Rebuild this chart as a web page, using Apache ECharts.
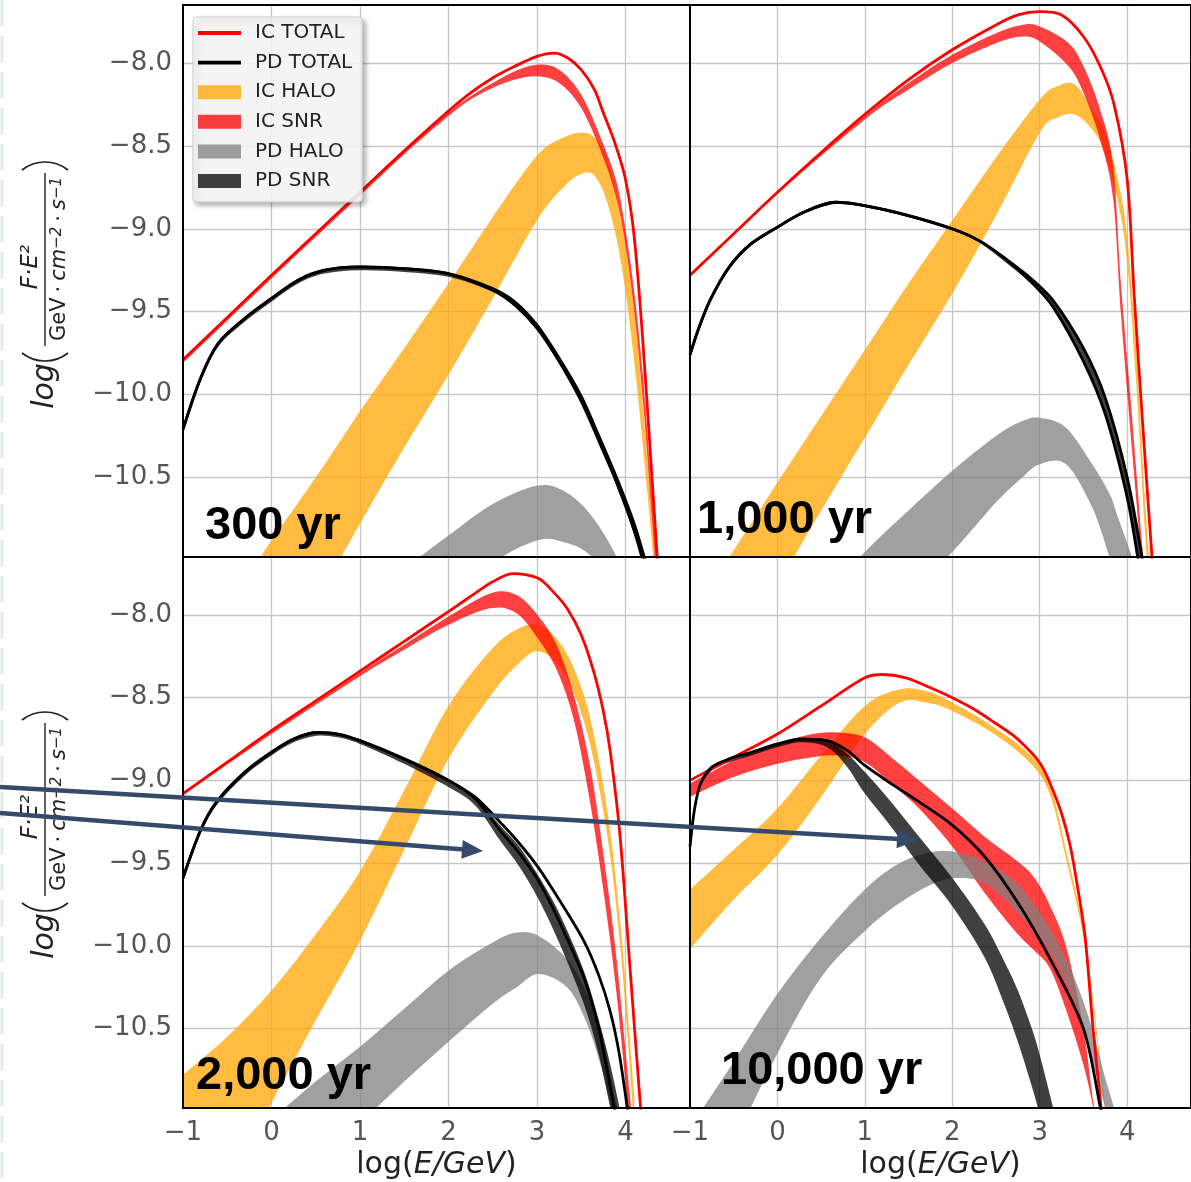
<!DOCTYPE html>
<html lang="en">
<head>
<meta charset="UTF-8">
<title>IC / PD spectra</title>
<script src="https://cdn.jsdelivr.net/npm/echarts@6/dist/echarts.min.js"></script>
<style>
  html, body { margin: 0; padding: 0; background: #fff; }
  #main { width: 1191px; height: 1182px; }
</style>
</head>
<body>
<div id="main"></div>
<script>
// lines: [logE, logF] ; bands: [logE, low, high]

// ---- 300 yr ----
var icTotal300 = [[-1,-9.79],[-0.5,-9.535],[0,-9.28],[0.5,-9.03],[1,-8.78],[1.5,-8.53],[2,-8.29],[2.25,-8.18],[2.5,-8.09],[2.75,-8.02],[3,-7.96],[3.2,-7.94],[3.35,-7.97],[3.5,-8.04],[3.65,-8.16],[3.75,-8.3],[3.88,-8.48],[4,-8.7],[4.1,-9.05],[4.2,-9.7],[4.3,-10.5],[4.4,-11.3]];
var pdTotalA300 = [[-1,-10.21],[-0.8,-9.9],[-0.6,-9.69],[-0.3,-9.54],[0,-9.42],[0.3,-9.31],[0.6,-9.25],[1,-9.23],[1.5,-9.24],[2,-9.27],[2.5,-9.36],[2.75,-9.44],[3,-9.58],[3.25,-9.78],[3.5,-10.01],[3.7,-10.25],[3.9,-10.5],[4.1,-10.78],[4.25,-11.05]];
var pdTotalB300 = [[-1,-10.21],[-0.8,-9.9],[-0.6,-9.69],[-0.3,-9.54],[0,-9.42],[0.3,-9.31],[0.6,-9.25],[1,-9.23],[1.5,-9.24],[2,-9.27],[2.5,-9.37],[2.75,-9.46],[3,-9.6],[3.25,-9.8],[3.5,-10.04],[3.7,-10.28],[3.9,-10.53],[4.1,-10.82],[4.25,-11.1]];
var icHalo300 = [[-0.2,-12.3,-11.05],[0,-11.7,-10.88],[0.5,-11.25,-10.5],[1,-10.78,-10.1],[1.5,-10.32,-9.72],[2,-9.88,-9.33],[2.5,-9.42,-8.93],[3,-8.95,-8.56],[3.3,-8.75,-8.45],[3.5,-8.67,-8.42],[3.65,-8.68,-8.45],[3.8,-8.85,-8.6],[3.95,-9.2,-8.95],[4.1,-9.8,-9.5],[4.25,-10.6,-10.4],[4.35,-11.2,-11.1]];
var icSnr300 = [[-1,-9.81,-9.8],[0,-9.3,-9.29],[1,-8.8,-8.79],[1.5,-8.55,-8.54],[2,-8.32,-8.3],[2.25,-8.22,-8.2],[2.5,-8.15,-8.12],[2.75,-8.1,-8.05],[3,-8.08,-8.01],[3.25,-8.12,-8.04],[3.5,-8.27,-8.19],[3.75,-8.57,-8.49],[3.9,-8.82,-8.72],[4,-9.1,-9.0],[4.1,-9.5,-9.38],[4.2,-10.05,-9.9],[4.3,-10.75,-10.6],[4.4,-11.5,-11.3]];
var pdHalo300 = [[1.5,-11.6,-11.05],[2,-11.3,-10.85],[2.5,-11.02,-10.66],[3,-10.88,-10.55],[3.3,-10.89,-10.58],[3.6,-10.97,-10.72],[3.9,-11.2,-10.98],[4.1,-11.5,-11.3]];
var pdSnr300 = [[-1,-10.23,-10.21],[-0.8,-9.92,-9.9],[-0.6,-9.71,-9.69],[-0.3,-9.56,-9.54],[0,-9.44,-9.42],[0.3,-9.33,-9.31],[0.6,-9.27,-9.25],[1,-9.25,-9.23],[1.5,-9.26,-9.24],[2,-9.29,-9.27],[2.5,-9.38,-9.36],[2.75,-9.47,-9.44],[3,-9.61,-9.58],[3.25,-9.81,-9.78],[3.5,-10.05,-10.01],[3.7,-10.29,-10.25],[3.9,-10.55,-10.5],[4.1,-10.85,-10.78],[4.25,-11.15,-11.05]];

// ---- 1,000 yr ----
var icTotal1000 = [[-1,-9.28],[-0.5,-9.03],[0,-8.78],[0.5,-8.54],[1,-8.31],[1.5,-8.1],[2,-7.92],[2.5,-7.77],[2.75,-7.71],[3,-7.69],[3.25,-7.71],[3.5,-7.84],[3.7,-8.03],[3.85,-8.25],[4,-8.7],[4.08,-9.4],[4.18,-10.2],[4.3,-11.1]];
var pdTotalA1000 = [[-1,-9.76],[-0.9,-9.6],[-0.77,-9.43],[-0.55,-9.23],[-0.3,-9.09],[0,-8.99],[0.3,-8.9],[0.66,-8.84],[1,-8.86],[1.5,-8.92],[2,-9.0],[2.3,-9.07],[2.58,-9.17],[2.9,-9.3],[3.15,-9.43],[3.5,-9.72],[3.75,-10.02],[4,-10.5],[4.17,-10.98],[4.3,-11.4]];
var pdTotalB1000 = [[-1,-9.76],[-0.9,-9.6],[-0.77,-9.43],[-0.55,-9.23],[-0.3,-9.09],[0,-8.99],[0.3,-8.9],[0.66,-8.84],[1,-8.86],[1.5,-8.92],[2,-9.0],[2.3,-9.07],[2.58,-9.17],[2.9,-9.32],[3.15,-9.47],[3.5,-9.8],[3.75,-10.12],[4,-10.62],[4.12,-10.98],[4.25,-11.4]];
var icHalo1000 = [[-1,-12.05,-11.35],[-0.5,-11.6,-10.94],[0,-11.15,-10.53],[0.5,-10.7,-10.13],[1,-10.26,-9.73],[1.5,-9.82,-9.33],[2,-9.39,-8.95],[2.5,-8.92,-8.57],[3,-8.42,-8.22],[3.2,-8.33,-8.14],[3.4,-8.31,-8.13],[3.6,-8.4,-8.28],[3.75,-8.55,-8.42],[3.9,-8.85,-8.72],[4,-9.2,-9.05],[4.1,-9.9,-9.7],[4.2,-10.8,-10.6],[4.28,-11.4,-11.2]];
var icSnr1000 = [[-1,-9.29,-9.28],[0,-8.79,-8.78],[1,-8.34,-8.32],[1.5,-8.16,-8.12],[2,-8.0,-7.95],[2.5,-7.88,-7.82],[2.8,-7.84,-7.77],[3,-7.87,-7.78],[3.33,-8.02,-7.88],[3.5,-8.18,-8.02],[3.69,-8.46,-8.28],[3.84,-8.82,-8.62],[3.93,-9.52,-9.34],[4.05,-10.3,-10.1],[4.17,-11.05,-10.9],[4.25,-11.6,-11.4]];
var pdHalo1000 = [[0.5,-11.8,-11.25],[1,-11.5,-10.95],[1.5,-11.2,-10.7],[2,-10.95,-10.46],[2.5,-10.65,-10.25],[2.8,-10.5,-10.16],[3,-10.42,-10.14],[3.3,-10.42,-10.2],[3.6,-10.68,-10.42],[3.8,-10.98,-10.6],[3.9,-11.1,-10.75],[4.1,-11.4,-11.05],[4.3,-11.7,-11.4]];
var pdSnr1000 = [[-1,-9.77,-9.76],[-0.9,-9.61,-9.6],[-0.77,-9.44,-9.43],[-0.55,-9.24,-9.23],[-0.3,-9.1,-9.09],[0,-9.0,-8.99],[0.3,-8.91,-8.9],[0.66,-8.85,-8.84],[1,-8.87,-8.86],[1.5,-8.93,-8.92],[2,-9.01,-9.0],[2.3,-9.08,-9.07],[2.58,-9.19,-9.17],[2.9,-9.33,-9.3],[3.15,-9.48,-9.43],[3.5,-9.81,-9.72],[3.75,-10.13,-10.02],[4,-10.63,-10.5],[4.17,-11.15,-10.98],[4.3,-11.5,-11.4]];

// ---- 2,000 yr ----
var icTotal2000 = [[-1,-9.08],[-0.5,-8.89],[0,-8.7],[0.5,-8.52],[1,-8.34],[1.5,-8.16],[2,-7.98],[2.3,-7.87],[2.5,-7.8],[2.72,-7.75],[3.02,-7.78],[3.2,-7.87],[3.34,-7.96],[3.5,-8.12],[3.64,-8.34],[3.75,-8.58],[3.83,-8.83],[3.94,-9.34],[4.06,-10.19],[4.17,-10.97],[4.25,-11.5]];
var pdTotalA2000 = [[-1,-9.59],[-0.8,-9.3],[-0.62,-9.13],[-0.3,-8.95],[0,-8.83],[0.25,-8.75],[0.51,-8.71],[0.75,-8.72],[1,-8.76],[1.5,-8.87],[2,-9.0],[2.3,-9.1],[2.58,-9.25],[2.8,-9.38],[3.02,-9.53],[3.25,-9.72],[3.53,-9.97],[3.7,-10.18],[3.83,-10.4],[3.93,-10.65],[4.02,-10.97],[4.12,-11.3]];
var pdTotalB2000 = [[-1,-9.59],[-0.8,-9.3],[-0.62,-9.13],[-0.3,-8.95],[0,-8.83],[0.25,-8.75],[0.51,-8.71],[0.75,-8.72],[1,-8.76],[1.5,-8.87],[2,-9.0],[2.3,-9.11],[2.58,-9.3],[2.8,-9.44],[3.02,-9.61],[3.25,-9.85],[3.53,-10.19],[3.7,-10.5],[3.87,-10.97],[3.95,-11.2]];
var icHalo2000 = [[-1,-11.9,-10.78],[-0.5,-11.45,-10.55],[0,-10.95,-10.27],[0.5,-10.45,-9.93],[1,-9.97,-9.55],[1.5,-9.42,-9.06],[2,-8.87,-8.55],[2.5,-8.47,-8.2],[2.8,-8.29,-8.08],[3,-8.22,-8.06],[3.2,-8.28,-8.13],[3.4,-8.45,-8.3],[3.6,-8.78,-8.62],[3.8,-9.35,-9.2],[3.95,-10.05,-9.9],[4.1,-11.1,-10.9]];
var icSnr2000 = [[-1,-9.09,-9.08],[0,-8.72,-8.71],[1,-8.37,-8.35],[1.5,-8.21,-8.18],[2,-8.06,-8.01],[2.47,-7.96,-7.87],[2.77,-7.99,-7.88],[3.02,-8.15,-8.01],[3.23,-8.34,-8.19],[3.42,-8.64,-8.49],[3.6,-9.13,-8.91],[3.75,-9.66,-9.44],[3.9,-10.29,-10.08],[4.05,-11.1,-10.9],[4.15,-11.6,-11.4]];
var pdHalo2000 = [[0,-11.55,-11.05],[0.5,-11.3,-10.82],[1,-11.07,-10.61],[1.5,-10.82,-10.38],[2,-10.58,-10.15],[2.5,-10.35,-9.98],[2.77,-10.25,-9.92],[3.02,-10.17,-9.94],[3.34,-10.25,-10.08],[3.55,-10.45,-10.27],[3.72,-10.72,-10.5],[3.9,-11.1,-10.97],[4.05,-11.4,-11.3]];
var pdSnr2000 = [[-1,-9.61,-9.59],[-0.8,-9.32,-9.3],[-0.62,-9.15,-9.13],[-0.3,-8.97,-8.95],[0,-8.85,-8.83],[0.25,-8.77,-8.75],[0.51,-8.73,-8.71],[0.75,-8.74,-8.72],[1,-8.78,-8.76],[1.5,-8.9,-8.87],[2,-9.04,-9.0],[2.3,-9.15,-9.1],[2.58,-9.36,-9.27],[2.8,-9.52,-9.4],[3.02,-9.72,-9.58],[3.25,-9.98,-9.8],[3.53,-10.35,-10.15],[3.7,-10.66,-10.45],[3.83,-10.98,-10.72],[3.93,-11.2,-10.97],[4.02,-11.4,-11.2]];

// ---- 10,000 yr ----
var icTotal10000 = [[-1,-9.0],[-0.5,-8.86],[0,-8.72],[0.5,-8.55],[1,-8.38],[1.2,-8.36],[1.47,-8.38],[1.75,-8.44],[2,-8.5],[2.25,-8.57],[2.48,-8.65],[2.7,-8.73],[2.9,-8.83],[3.02,-8.91],[3.12,-9.02],[3.25,-9.2],[3.35,-9.4],[3.45,-9.7],[3.52,-9.95],[3.61,-10.5],[3.7,-10.97],[3.78,-11.4]];
var pdTotal10000 = [[-1,-9.4],[-0.95,-9.18],[-0.88,-9.02],[-0.75,-8.92],[-0.55,-8.87],[-0.3,-8.83],[0,-8.78],[0.27,-8.75],[0.57,-8.76],[0.8,-8.82],[1,-8.91],[1.3,-9.02],[1.62,-9.13],[2,-9.27],[2.37,-9.46],[2.75,-9.74],[3.12,-10.08],[3.5,-10.5],[3.69,-10.97],[3.8,-11.3]];
var icHalo10000 = [[-1,-10.02,-9.66],[-0.5,-9.72,-9.42],[0,-9.45,-9.17],[0.5,-9.1,-8.85],[1,-8.72,-8.55],[1.4,-8.53,-8.45],[1.7,-8.53,-8.46],[2,-8.58,-8.53],[2.48,-8.72,-8.68],[2.9,-8.9,-8.85],[3.12,-9.09,-9.03],[3.3,-9.47,-9.42],[3.5,-9.95,-9.9],[3.65,-10.55,-10.5],[3.8,-11.25,-11.2]];
var icSnr10000 = [[-1,-9.1,-9.02],[-0.5,-8.98,-8.88],[0,-8.9,-8.78],[0.4,-8.86,-8.72],[0.7,-8.85,-8.71],[1,-8.89,-8.74],[1.3,-9.02,-8.86],[1.62,-9.17,-9.0],[2,-9.4,-9.17],[2.37,-9.68,-9.34],[2.75,-9.93,-9.49],[2.94,-10.03,-9.59],[3.12,-10.14,-9.76],[3.31,-10.4,-10.02],[3.5,-10.72,-10.5],[3.62,-11.0,-10.97],[3.75,-11.4,-11.3]];
var pdHalo10000 = [[-1,-11.8,-11.1],[-0.5,-11.2,-10.7],[0,-10.65,-10.29],[0.5,-10.19,-9.95],[1,-9.91,-9.66],[1.4,-9.74,-9.5],[1.8,-9.62,-9.43],[2.1,-9.59,-9.44],[2.4,-9.63,-9.5],[2.75,-9.8,-9.63],[3.12,-10.04,-9.9],[3.4,-10.35,-10.2],[3.6,-10.7,-10.5],[3.75,-10.98,-10.8],[3.85,-11.2,-10.98],[4,-11.5,-11.3]];
var pdSnr10000 = [[-1,-9.42,-9.4],[-0.95,-9.2,-9.18],[-0.88,-9.04,-9.02],[-0.75,-8.94,-8.92],[-0.55,-8.89,-8.87],[-0.3,-8.85,-8.83],[0,-8.8,-8.78],[0.27,-8.77,-8.75],[0.57,-8.8,-8.76],[0.8,-8.92,-8.84],[1,-9.08,-8.95],[1.3,-9.28,-9.13],[1.62,-9.51,-9.34],[2,-9.76,-9.59],[2.37,-10.07,-9.87],[2.6,-10.36,-10.1],[2.75,-10.58,-10.27],[2.91,-10.85,-10.5],[3,-11.02,-10.66],[3.14,-11.3,-10.95],[3.3,-11.65,-11.3]];

var xTicks = [-1, 0, 1, 2, 3, 4];
var yTicks = [-10.5, -10, -9.5, -9, -8.5, -8];
var ageLabels = ['300 yr', '1,000 yr', '2,000 yr', '10,000 yr'];

var panels = [
    {icTotal: icTotal300, pdTotal: [pdTotalA300, pdTotalB300], icHalo: icHalo300, icSnr: icSnr300, pdHalo: pdHalo300, pdSnr: pdSnr300},
    {icTotal: icTotal1000, pdTotal: [pdTotalA1000, pdTotalB1000], icHalo: icHalo1000, icSnr: icSnr1000, pdHalo: pdHalo1000, pdSnr: pdSnr1000},
    {icTotal: icTotal2000, pdTotal: [pdTotalA2000, pdTotalB2000], icHalo: icHalo2000, icSnr: icSnr2000, pdHalo: pdHalo2000, pdSnr: pdSnr2000},
    {icTotal: icTotal10000, pdTotal: [pdTotal10000], icHalo: icHalo10000, icSnr: icSnr10000, pdHalo: pdHalo10000, pdSnr: pdSnr10000}
];

var COL = {
    icTotal: '#ff0000',
    pdTotal: '#000000',
    icHalo: 'rgba(255,165,0,0.75)',
    icSnr: 'rgba(255,0,0,0.75)',
    pdHalo: 'rgba(128,128,128,0.75)',
    pdSnr: 'rgba(0,0,0,0.75)'
};
var FONT = 'DejaVu Sans';
var minus = function (s) { return String(s).replace('-', '\u2212'); };

var myChart = echarts.init(document.getElementById('main'));

// panel boxes [left, top, width, height]
var boxes = [[183, 5, 507, 552], [690, 5, 507, 552], [183, 557, 507, 551], [690, 557, 507, 551]];

var grids = [], xAxes = [], yAxes = [], series = [];

// catmull-rom through pixel points -> bezier path segments
function smoothPath(p, move) {
    var d = (move ? 'M' : 'L') + p[0][0] + ',' + p[0][1];
    for (var i = 0; i < p.length - 1; i++) {
        var p0 = p[i - 1] || p[i], p1 = p[i], p2 = p[i + 1], p3 = p[i + 2] || p[i + 1];
        d += 'C' + (p1[0] + (p2[0] - p0[0]) / 6) + ',' + (p1[1] + (p2[1] - p0[1]) / 6) + ',' +
            (p2[0] - (p3[0] - p1[0]) / 6) + ',' + (p2[1] - (p3[1] - p1[1]) / 6) + ',' + p2[0] + ',' + p2[1];
    }
    return d;
}

function band(name, gi, pts, color) {
    return {
        type: 'custom', name: name, xAxisIndex: gi, yAxisIndex: gi,
        itemStyle: {color: color}, clip: true, z: 2,
        data: pts, encode: {x: 0, y: [1, 2]},
        renderItem: function (params, api) {
            if (params.dataIndex !== 0) return null;
            var top = pts.map(function (p) { return api.coord([p[0], p[2]]); });
            var bot = pts.slice().reverse().map(function (p) { return api.coord([p[0], p[1]]); });
            var cs = params.coordSys;
            return {
                type: 'path',
                shape: {pathData: smoothPath(top, true) + smoothPath(bot, false) + 'Z'},
                style: {fill: color},
                clipPath: {type: 'rect', shape: {x: cs.x, y: cs.y, width: cs.width, height: cs.height}}
            };
        }
    };
}

function line(name, gi, pts, color) {
    return {
        type: 'line', name: name, xAxisIndex: gi, yAxisIndex: gi,
        data: pts, symbol: 'none', showSymbol: false, smooth: 0.3, clip: true, z: 3,
        lineStyle: {color: color, width: 2.8}, itemStyle: {color: color}
    };
}

boxes.forEach(function (b, i) {
    var bottomRow = i >= 2, leftCol = i % 2 === 0;
    grids.push({left: b[0], top: b[1], width: b[2], height: b[3], show: true, z: 5,
        borderColor: '#000', borderWidth: 2, backgroundColor: 'transparent'});
    xAxes.push({
        gridIndex: i, type: 'value', min: -1, max: 4.73,
        axisLine: {show: false},
        axisTick: {show: false, customValues: [0, 1, 2, 3, 4]},
        splitLine: {show: true, lineStyle: {color: '#c6c6c6', width: 1.3}},
        axisLabel: {show: bottomRow, customValues: xTicks, margin: 12, fontSize: 26, color: '#555',
            fontFamily: FONT, formatter: function (v) { return minus(v); }},
        name: bottomRow ? '{n|log(}{i|E/GeV}{n|)}' : '',
        nameLocation: 'middle', nameGap: 42,
        nameTextStyle: {rich: {
            n: {fontSize: 30, fontFamily: FONT, color: '#222'},
            i: {fontSize: 30, fontFamily: FONT, fontStyle: 'italic', color: '#222'}
        }}
    });
    yAxes.push({
        gridIndex: i, type: 'value', min: -10.98, max: -7.65,
        axisLine: {show: false},
        axisTick: {show: false, customValues: yTicks},
        splitLine: {show: true, lineStyle: {color: '#c6c6c6', width: 1.3}},
        axisLabel: {show: leftCol, customValues: yTicks, margin: 11, fontSize: 26, color: '#555',
            fontFamily: FONT, formatter: function (v) { return minus(v.toFixed(1)); }}
    });

    var p = panels[i];
    series.push(band('IC HALO', i, p.icHalo, COL.icHalo));
    series.push(band('IC SNR', i, p.icSnr, COL.icSnr));
    series.push(band('PD HALO', i, p.pdHalo, COL.pdHalo));
    series.push(band('PD SNR', i, p.pdSnr, COL.pdSnr));
    series.push(line('IC TOTAL', i, p.icTotal, COL.icTotal));
    p.pdTotal.forEach(function (d) { series.push(line('PD TOTAL', i, d, COL.pdTotal)); });
});

// y axis title: log( F.E^2 / GeV.cm^-2.s^-1 ), rotated
function yTitle(cy) {
    var c = '#222';
    // thin delimiters drawn as arcs (local frame, text runs along +x)
    var R = 37, a = Math.asin(23 / R);
    return {
        type: 'group', x: 45, y: cy, rotation: Math.PI / 2, z: 50,
        children: [
            {type: 'text', x: -100, y: 0, style: {text: 'log', font: 'italic 30px "DejaVu Sans"', fill: c, align: 'center', verticalAlign: 'middle'}},
            {type: 'arc', shape: {cx: -75 + R, cy: 0, r: R, startAngle: Math.PI - a, endAngle: Math.PI + a},
                style: {stroke: c, lineWidth: 1.7, fill: null}},
            {type: 'text', x: 19, y: -14, style: {text: 'F\u00b7E\u00b2', font: 'italic 23px "DejaVu Sans"', fill: c, align: 'center', verticalAlign: 'middle'}},
            {type: 'line', shape: {x1: -60, y1: 0, x2: 113, y2: 0}, style: {stroke: c, lineWidth: 1.4}},
            {type: 'text', x: 27, y: 15, style: {
                text: '{r|GeV}{d|\u00b7}{i|cm}{s|\u22122}{d|\u00b7}{i|s}{s|\u22121}',
                align: 'center', verticalAlign: 'middle',
                rich: {
                    r: {fontSize: 21, fontFamily: FONT, fill: c},
                    d: {fontSize: 21, fontFamily: FONT, fill: c, padding: [0, 5]},
                    i: {fontSize: 21, fontFamily: FONT, fontStyle: 'italic', fill: c},
                    s: {fontSize: 15, fontFamily: FONT, fontStyle: 'italic', fill: c, verticalAlign: 'top'}
                }
            }},
            {type: 'arc', shape: {cx: 124 - R, cy: 0, r: R, startAngle: -a, endAngle: a},
                style: {stroke: c, lineWidth: 1.7, fill: null}}
        ]
    };
}

var arrowColor = '#35496a';
function arrow(x0, y0, x1, y1) {
    var dx = x1 - x0, dy = y1 - y0, len = Math.sqrt(dx * dx + dy * dy);
    var ux = dx / len, uy = dy / len, hl = 21, hw = 9.5;
    var bx = x1 - ux * hl, by = y1 - uy * hl;
    return [
        {type: 'line', z: 100, shape: {x1: x0, y1: y0, x2: bx + ux * 2, y2: by + uy * 2},
            style: {stroke: arrowColor, lineWidth: 4.5}},
        {type: 'polygon', z: 100, shape: {points: [[x1, y1], [bx - uy * hw, by + ux * hw], [bx + uy * hw, by - ux * hw]]},
            style: {fill: arrowColor}}
    ];
}

var labelPos = [[205, 526], [697, 520], [196, 1076], [721, 1071]];
var graphics = [
    {type: 'line', z: 1, shape: {x1: 2, y1: 0, x2: 2, y2: 1182}, style: {stroke: '#e2eaf4', lineWidth: 3, lineDash: [26, 10]}},
    yTitle(286), yTitle(836)
];
ageLabels.forEach(function (t, i) {
    graphics.push({type: 'text', z: 60, x: labelPos[i][0], y: labelPos[i][1],
        style: {text: t, font: 'bold 47px "Liberation Sans"', fill: '#000', align: 'left', verticalAlign: 'middle'}});
});
graphics = graphics.concat(arrow(0, 787, 918, 840), arrow(0, 813, 483, 851));

var lineIcon = 'path://M0,0 L44,0 L44,4 L0,4 Z';

var option = {
    animation: false,
    backgroundColor: '#fff',
    grid: grids,
    xAxis: xAxes,
    yAxis: yAxes,
    legend: {
        left: 193, top: 17, orient: 'vertical', z: 20,
        padding: [6, 10, 11, 5],
        itemWidth: 43, itemHeight: 14, itemGap: 9.6,
        selectedMode: false,
        backgroundColor: 'rgba(255,255,255,0.85)', borderColor: '#cccccc', borderWidth: 1, borderRadius: 4,
        shadowBlur: 5, shadowColor: 'rgba(0,0,0,0.35)', shadowOffsetX: 3, shadowOffsetY: 3,
        itemStyle: {borderWidth: 0},
        textStyle: {fontFamily: FONT, fontSize: 20, color: '#222', lineHeight: 20, padding: [0, 0, 0, 9]},
        data: [
            {name: 'IC TOTAL', icon: lineIcon},
            {name: 'PD TOTAL', icon: lineIcon},
            {name: 'IC HALO', icon: 'rect'},
            {name: 'IC SNR', icon: 'rect'},
            {name: 'PD HALO', icon: 'rect'},
            {name: 'PD SNR', icon: 'rect'}
        ]
    },
    graphic: {elements: graphics},
    series: series
};
myChart.setOption(option);
</script>
</body>
</html>
